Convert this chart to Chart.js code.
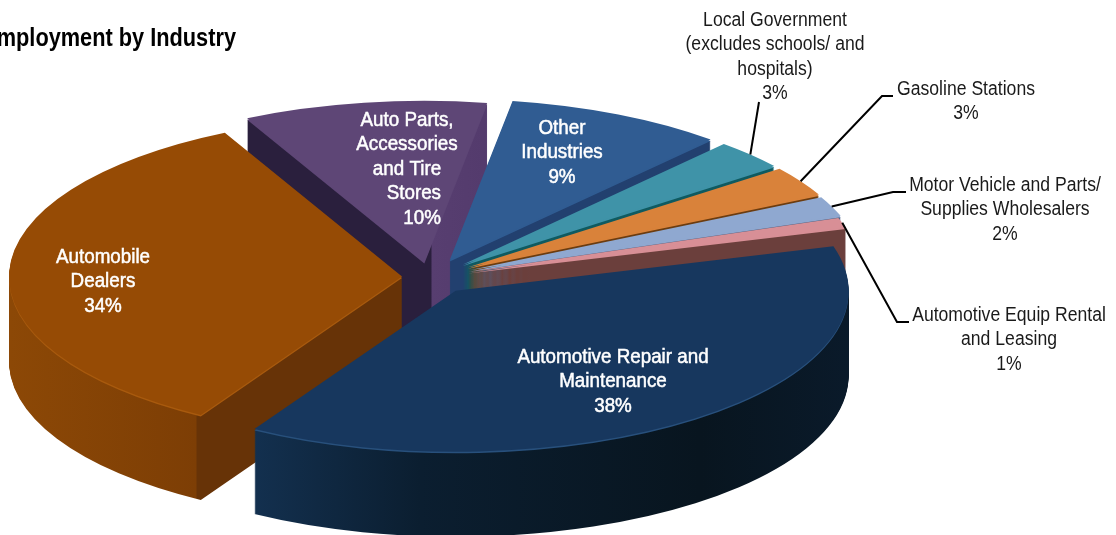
<!DOCTYPE html>
<html>
<head>
<meta charset="utf-8">
<style>
  html, body { margin: 0; padding: 0; background: #fff; }
  #wrap { width: 1116px; height: 535px; }
</style>
<script src="https://cdn.jsdelivr.net/npm/chart.js@4"></script>
</head>
<body>
<div id="wrap"><canvas id="industryPie"></canvas></div>
<script>
const categories = [
  ['Automotive Repair and', 'Maintenance'],
  ['Automobile', 'Dealers'],
  ['Auto Parts,', 'Accessories', 'and Tire', 'Stores'],
  ['Other', 'Industries'],
  ['Local Government', '(excludes schools/ and', 'hospitals)'],
  ['Gasoline Stations'],
  ['Motor Vehicle and Parts/', 'Supplies Wholesalers'],
  ['Automotive Equip Rental', 'and Leasing']
];
const shares = [38, 34, 10, 9, 3, 3, 2, 1];

const topColors = ['#17375e', '#964b05', '#5e4676', '#305c92', '#3f93a8', '#d9823a', '#8fa8d0', '#d88f96'];
const rimColors = ['#28507c', '#a85a0e', '#5e4676', '#305c92', '#3f93a8', '#d9823a', '#8fa8d0', '#d88f96'];
// wall shading, left to right across the page: [x, colour]
const wallStops = [
  [[253, '#13304f'], [420, '#0b1e30'], [700, '#08151f'], [848, '#0a1a2a']],
  [[10, '#8c4806'], [196, '#7d3e05'], [197, '#673307'], [402, '#673307']],
  [[431, '#2a1f3d'], [432, '#573e70'], [500, '#533a6c']],
  [[450, '#22406f'], [720, '#22406f']],
  [[450, '#0f5a60'], [780, '#0f5a60']],
  [[450, '#6b3c10'], [830, '#6b3c10']],
  [[450, '#4f5f7f'], [840, '#4f5f7f']],
  [[450, '#6b3f3c'], [850, '#6b3f3c']]
];
const explode = [42, 28, 37, 46, 45, 45, 44, 40];
// the parts slice runs deeper so its wall closes the notch behind the front slices
const wallDepth = [85, 85, 110, 85, 85, 85, 85, 85];
// back to front
const drawOrder = [2, 3, 4, 5, 6, 7, 1, 0];

const SQUASH = 0.41;
const PAGE_W = 1116;
const FONT = '"Liberation Sans", Arial, sans-serif';
// Liberation has no narrow cut here, so text is squeezed horizontally
const OUTER_SQUEEZE = 0.88;
const INNER_SQUEEZE = 0.94;

// first-line centre of each label block
const labelSpots = [
  { x: 613, y: 357, color: '#fff', heavy: true },
  { x: 103, y: 257, color: '#fff', heavy: true },
  { x: 407, y: 120, color: '#fff', heavy: true, tailFrom: 3, tailRight: 441 },
  { x: 562, y: 128, color: '#fff', heavy: true },
  { x: 775, y: 20, color: '#1a1a1a' },
  { x: 966, y: 89, color: '#1a1a1a' },
  { x: 1005, y: 185, color: '#1a1a1a' },
  { x: 1009, y: 315, color: '#1a1a1a' }
];
// leader lines run from the slice rim through these points
const leaderPaths = {
  4: [[759, 102]],
  5: [[882, 96], [893, 96]],
  6: [[893, 192], [906, 192]],
  7: [[897, 322], [909, 322]]
};

function sliceShift(arc, i) {
  const mid = (arc.startAngle + arc.endAngle) / 2;
  return { x: Math.cos(mid) * explode[i], y: Math.sin(mid) * explode[i], mid };
}

function wallGradient(ctx, i, dx) {
  const g = ctx.createLinearGradient(-dx, 0, PAGE_W - dx, 0);
  wallStops[i].forEach(([x, c]) => g.addColorStop(x / PAGE_W, c));
  return g;
}

function paintSlice(ctx, arc, dy, dx, ey, fill) {
  const saved = arc.options;
  arc.options = Object.assign({}, saved, { backgroundColor: fill, borderWidth: 0 });
  ctx.save();
  ctx.translate(0, dy + arc.y);
  ctx.scale(1, SQUASH);
  ctx.translate(dx, ey - arc.y);
  arc.draw(ctx);
  ctx.restore();
  arc.options = saved;
}

function squeezedText(ctx, text, x, y, squeeze, heavy) {
  ctx.save();
  ctx.translate(x, y);
  ctx.scale(squeeze, 1);
  ctx.fillText(text, 0, 0);
  if (heavy) {
    ctx.strokeStyle = ctx.fillStyle;
    ctx.lineWidth = 0.5;
    ctx.strokeText(text, 0, 0);
  }
  ctx.restore();
}

const solidPie = {
  id: 'solidPie',
  // extrudes each slice downward, then lays its top face over it
  beforeDatasetDraw(chart, args) {
    const ctx = chart.ctx;
    const arcs = args.meta.data;
    drawOrder.forEach(i => {
      const arc = arcs[i];
      const s = sliceShift(arc, i);
      const wall = wallGradient(ctx, i, s.x);
      for (let d = wallDepth[i]; d >= 2; d--) paintSlice(ctx, arc, d, s.x, s.y, wall);
      paintSlice(ctx, arc, 1.5, s.x, s.y, rimColors[i]);
      paintSlice(ctx, arc, 0, s.x, s.y, topColors[i]);
    });
    return false;
  },
  afterDraw(chart) {
    const ctx = chart.ctx;
    const arcs = chart.getDatasetMeta(0).data;

    ctx.save();
    ctx.strokeStyle = '#000';
    ctx.lineWidth = 2;
    Object.keys(leaderPaths).forEach(k => {
      const arc = arcs[k];
      const s = sliceShift(arc, k);
      const rimX = arc.x + s.x + Math.cos(s.mid) * arc.outerRadius;
      const rimY = arc.y + (s.y + Math.sin(s.mid) * arc.outerRadius) * SQUASH;
      ctx.beginPath();
      ctx.moveTo(rimX, rimY);
      leaderPaths[k].forEach(([x, y]) => ctx.lineTo(x, y));
      ctx.stroke();
    });
    ctx.restore();

    ctx.save();
    ctx.textBaseline = 'middle';
    ctx.font = '20px ' + FONT;
    categories.forEach((lines, i) => {
      const spot = labelSpots[i];
      const squeeze = spot.heavy ? INNER_SQUEEZE : OUTER_SQUEEZE;
      ctx.fillStyle = spot.color;
      lines.concat(shares[i] + '%').forEach((line, n) => {
        const tail = spot.tailFrom !== undefined && n >= spot.tailFrom;
        ctx.textAlign = tail ? 'right' : 'center';
        squeezedText(ctx, line, tail ? spot.tailRight : spot.x, spot.y + n * 24.5, squeeze, spot.heavy);
      });
    });

    // the heading runs off the left edge of the page
    ctx.fillStyle = '#000';
    ctx.font = 'bold 25px ' + FONT;
    ctx.textAlign = 'right';
    squeezedText(ctx, 'Employment by Industry', 236, 39, 0.87, false);
    ctx.restore();
  }
};

new Chart(document.getElementById('industryPie'), {
  type: 'pie',
  data: {
    labels: categories.map(c => c.join(' ')),
    datasets: [{
      data: shares,
      backgroundColor: topColors,
      borderWidth: 0,
      hoverOffset: 0
    }]
  },
  options: {
    responsive: true,
    maintainAspectRatio: false,
    animation: false,
    events: [],
    rotation: 74,
    radius: 393,
    layout: { padding: { top: 19, right: 256 } },
    plugins: {
      legend: { display: false },
      tooltip: { enabled: false }
    }
  },
  plugins: [solidPie]
});
</script>
</body>
</html>
